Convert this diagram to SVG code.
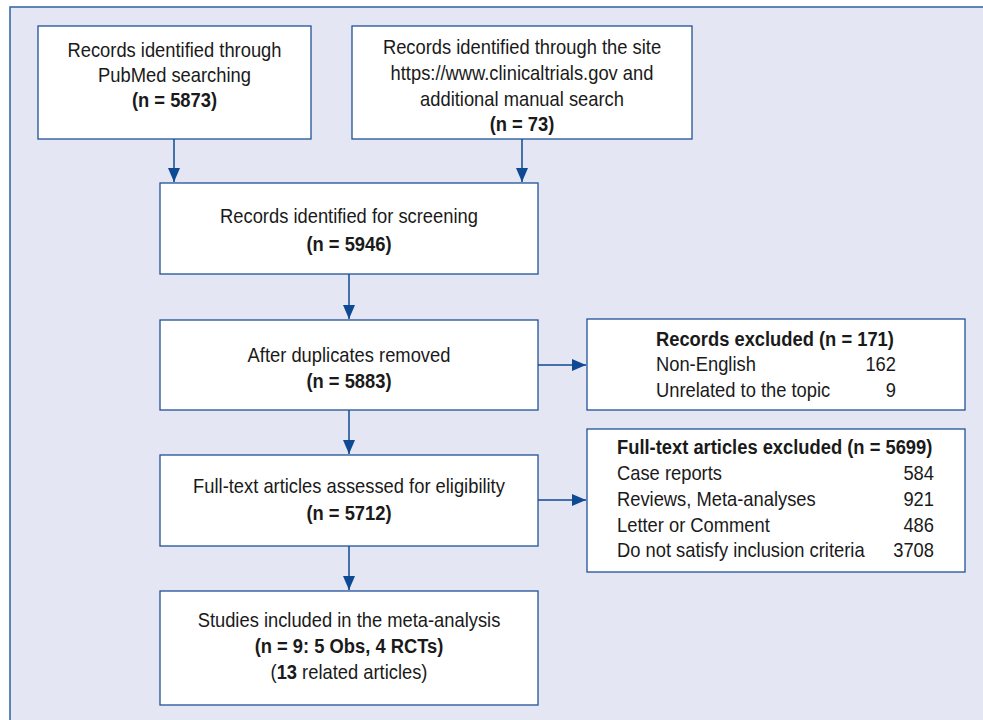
<svg xmlns="http://www.w3.org/2000/svg" width="983" height="720" viewBox="0 0 983 720">
<defs>
<style>
.box{fill:#ffffff;stroke:#1f5096;stroke-width:1.3}
.t{font-family:"Liberation Sans",Arial,sans-serif;font-size:20.5px;fill:#1a1a1a}
.c{text-anchor:middle}
.r{text-anchor:end}
.b{font-weight:bold}
.ln{stroke:#0e4a94;stroke-width:1.5;fill:none}
</style>
<marker id="ah" viewBox="0 0 14 12" refX="14" refY="6" markerWidth="14" markerHeight="12" markerUnits="userSpaceOnUse" orient="auto">
<path d="M0,0 L14,6 L0,12 Z" fill="#0e4a94"/>
</marker>
</defs>
<rect x="0" y="0" width="983" height="720" fill="#ffffff"/>
<rect id="frame" x="10" y="7" width="990" height="730" fill="#e4e7f3" stroke="#3a6aa8" stroke-width="1.6"/>

<g id="connectors">
<line class="ln" x1="174" y1="139" x2="174" y2="182" marker-end="url(#ah)"/>
<line class="ln" x1="522" y1="139" x2="522" y2="182" marker-end="url(#ah)"/>
<line class="ln" x1="349" y1="274" x2="349" y2="319" marker-end="url(#ah)"/>
<line class="ln" x1="349" y1="410" x2="349" y2="454" marker-end="url(#ah)"/>
<line class="ln" x1="349" y1="546" x2="349" y2="590" marker-end="url(#ah)"/>
<line class="ln" x1="538" y1="365" x2="586" y2="365" marker-end="url(#ah)"/>
<line class="ln" x1="538" y1="500" x2="586" y2="500" marker-end="url(#ah)"/>
</g>

<g id="n1">
<rect class="box" x="38" y="26" width="273" height="113"/>
<g transform="scale(0.895,1)">
<text class="t c" x="194.97" y="56.7">Records identified through</text>
<text class="t c" x="194.97" y="81.7">PubMed searching</text>
<text class="t c b" x="194.97" y="106.7">(n = 5873)</text>
</g>
</g>
<g id="n2">
<rect class="box" x="352" y="26" width="340" height="113"/>
<g transform="scale(0.895,1)">
<text class="t c" x="583.24" y="54.3">Records identified through the site</text>
<text class="t c" x="583.24" y="80">https://www.clinicaltrials.gov and</text>
<text class="t c" x="583.24" y="105.7">additional manual search</text>
<text class="t c b" x="583.24" y="131">(n = 73)</text>
</g>
</g>
<g id="n3">
<rect class="box" x="160" y="183" width="378" height="91"/>
<g transform="scale(0.895,1)">
<text class="t c" x="389.94" y="223.3">Records identified for screening</text>
<text class="t c b" x="389.94" y="250.7">(n = 5946)</text>
</g>
</g>
<g id="n4">
<rect class="box" x="160" y="320" width="378" height="90"/>
<g transform="scale(0.895,1)">
<text class="t c" x="389.94" y="361.7">After duplicates removed</text>
<text class="t c b" x="389.94" y="388.3">(n = 5883)</text>
</g>
</g>
<g id="n5">
<rect class="box" x="160" y="455" width="378" height="91"/>
<g transform="scale(0.895,1)">
<text class="t c" x="389.94" y="493.3">Full-text articles assessed for eligibility</text>
<text class="t c b" x="389.94" y="520">(n = 5712)</text>
</g>
</g>
<g id="n6">
<rect class="box" x="160" y="591" width="378" height="114"/>
<g transform="scale(0.895,1)">
<text class="t c" x="389.94" y="627.3">Studies included in the meta-analysis</text>
<text class="t c b" x="389.94" y="653.3">(n = 9: 5 Obs, 4 RCTs)</text>
<text class="t c" x="389.94" y="679">(<tspan class="b">13</tspan> related articles)</text>
</g>
</g>
<g id="n7">
<rect class="box" x="587" y="319" width="378" height="91"/>
<g transform="scale(0.895,1)">
<text class="t b" x="732.96" y="345.7">Records excluded (n = 171)</text>
<text class="t" x="732.96" y="370.7">Non-English</text>
<text class="t r" x="1001.12" y="370.7">162</text>
<text class="t" x="732.96" y="396.7">Unrelated to the topic</text>
<text class="t r" x="1001.12" y="396.7">9</text>
</g>
</g>
<g id="n8">
<rect class="box" x="587" y="429" width="378" height="143"/>
<g transform="scale(0.895,1)">
<text class="t b" x="689.39" y="454">Full-text articles excluded (n = 5699)</text>
<text class="t" x="689.39" y="480">Case reports</text>
<text class="t r" x="1043.58" y="480">584</text>
<text class="t" x="689.39" y="506">Reviews, Meta-analyses</text>
<text class="t r" x="1043.58" y="506">921</text>
<text class="t" x="689.39" y="532">Letter or Comment</text>
<text class="t r" x="1043.58" y="532">486</text>
<text class="t" x="689.39" y="557">Do not satisfy inclusion criteria</text>
<text class="t r" x="1043.58" y="557">3708</text>
</g>
</g>
</svg>
